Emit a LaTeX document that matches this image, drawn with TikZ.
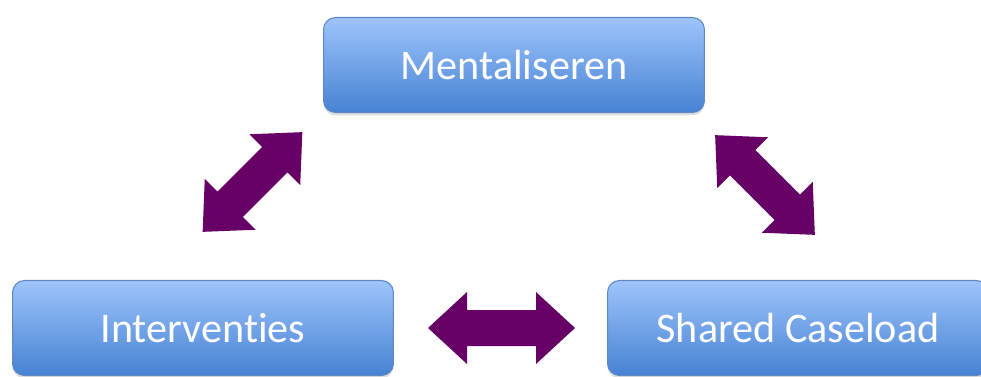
\documentclass[tikz,border=0pt]{standalone}
\usepackage{fontspec}
\setmainfont[Ligatures=CommonOff]{Carlito}
\usetikzlibrary{shadows}
\definecolor{arrowpurple}{RGB}{102,0,102}
\definecolor{boxtop}{RGB}{158,196,250}
\definecolor{boxbottom}{RGB}{70,130,212}
\definecolor{boxline}{RGB}{95,135,195}

\begin{document}
\begin{tikzpicture}[x=0.02cm, y=-0.02cm,
    box/.style={rounded corners=0.24cm, draw=boxline, line width=0.6pt,
        top color=boxtop, bottom color=boxbottom,
        drop shadow={opacity=0.25, shadow xshift=0cm, shadow yshift=-0.06cm},
        minimum width=7.62cm, minimum height=1.9cm, text=white,
        font=\fontsize{24}{28}\selectfont},
    pics/dblarrow/.style={code={
        \fill[arrowpurple] (-#1,0) -- (-#1+39,36) -- (-#1+39,18) -- (#1-39,18)
            -- (#1-39,36) -- (#1,0) -- (#1-39,-36) -- (#1-39,-18)
            -- (-#1+39,-18) -- (-#1+39,-36) -- cycle;
    }}]
    \useasboundingbox (0,0) rectangle (981,376);
    % Boxes
    \node[box] (ment) at (514,65) {Mentaliseren};
    \node[box] (interv) at (203,328) {Interventies};
    \node[box] (shared) at (798,328) {Shared Caseload};
    % Arrows
    \pic[rotate=45] (arrL) at (252.5,182) {dblarrow=70.5};
    \pic[rotate=-45] (arrR) at (765,185) {dblarrow=70.5};
    \pic (arrB) at (501.5,328) {dblarrow=73.5};
\end{tikzpicture}
\end{document}
